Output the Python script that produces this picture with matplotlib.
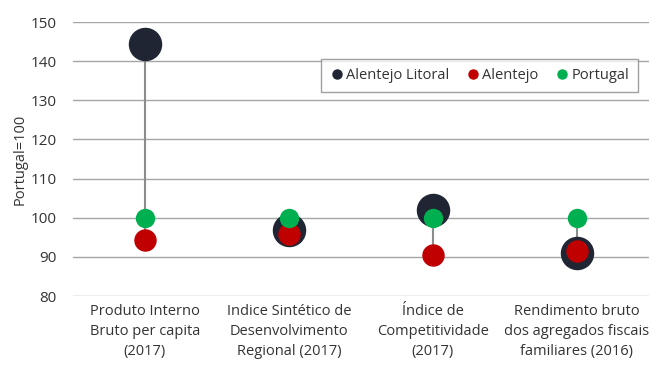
import matplotlib
matplotlib.use("Agg")
import matplotlib.pyplot as plt
from matplotlib.lines import Line2D
import numpy as np

categories = ["Produto Interno\nBruto per capita\n(2017)",
              "Indice Sintético de\nDesenvolvimento\nRegional (2017)",
              "Índice de\nCompetitividade\n(2017)",
              "Rendimento bruto\ndos agregados fiscais\nfamiliares (2016)"]
litoral = [144.4, 96.9, 102.0, 90.9]
alentejo = [94.3, 95.8, 90.5, 91.5]
portugal = [100.0, 100.0, 100.0, 100.0]
yticks = [80, 90, 100, 110, 120, 130, 140, 150]
series_names = ["Alentejo Litoral", "Alentejo", "Portugal"]
colors = ["#1f2533", "#c00000", "#00b050"]

plt.rcParams['font.family'] = ['Open Sans', 'DejaVu Sans']

fig = plt.figure(figsize=(6.49, 3.65), dpi=100)
ax = fig.add_axes([73/649, 1-296/365, 576/649, 274/365])

x = np.arange(len(categories))
lo = np.minimum.reduce([litoral, alentejo, portugal])
hi = np.maximum.reduce([litoral, alentejo, portugal])
ax.vlines(x, lo, hi, color="#8c8c8c", lw=1.5, zorder=2)

ax.scatter(x, litoral, s=32**2 * 0.52, color=colors[0], zorder=3)
ax.scatter(x, alentejo, s=21**2 * 0.52, color=colors[1], zorder=4)
ax.scatter(x, portugal, s=18**2 * 0.52, color=colors[2], zorder=5)

ax.set_xlim(-0.5, 3.5)
ax.set_ylim(80, 150)
ax.set_yticks(yticks)
ax.set_xticks(x)
ax.set_xticklabels(categories, fontsize=10.5, color="#333333", linespacing=1.45)
ax.tick_params(axis='y', labelsize=11, colors="#333333", length=0, pad=12)
ax.tick_params(axis='x', length=0, pad=6)
ax.grid(axis='y', color="#a6a6a6", lw=1)
ax.set_axisbelow(True)
for s in ax.spines.values():
    s.set_visible(False)
ax.set_ylabel("Portugal=100", fontsize=10.5, color="#333333", labelpad=2)

handles = [Line2D([], [], ls='none', marker='o', markersize=6.5, color=c) for c in colors]
leg = ax.legend(handles, series_names, loc="upper right", bbox_to_anchor=(565/576, (296-59)/274), ncol=3,
                fontsize=10.5, frameon=True, fancybox=False, edgecolor="#888888",
                handletextpad=0.15, columnspacing=1.1,
                borderpad=0.6, handlelength=1.0, borderaxespad=0)
leg.get_frame().set_linewidth(1)
for t in leg.get_texts():
    t.set_color("#333333")

fig.savefig("out.png", dpi=100)
